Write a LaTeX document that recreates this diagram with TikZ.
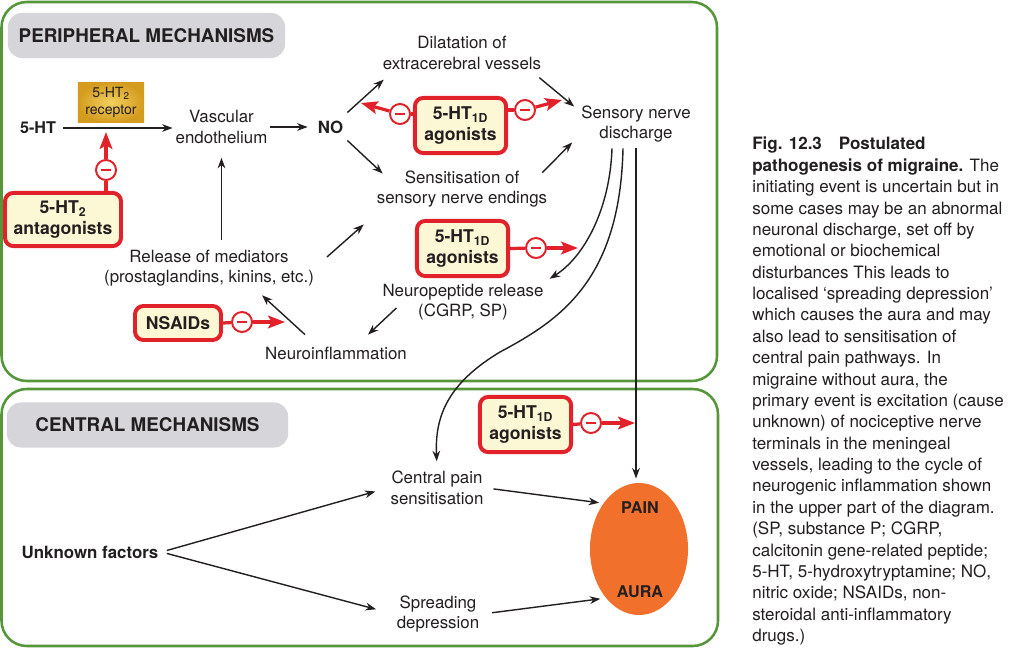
\documentclass[tikz,border=0pt]{standalone}
\usepackage{fontspec}
\setmainfont{TeX Gyre Heros}
\usepackage{tikz}
\usetikzlibrary{arrows.meta, positioning, shapes.geometric}
\usepackage{xcolor}

\definecolor{ink}{RGB}{35,31,32}
\definecolor{framegreen}{RGB}{86,150,58}
\definecolor{drugred}{RGB}{226,34,42}
\definecolor{cream}{RGB}{252,247,212}
\definecolor{gold}{RGB}{212,156,30}
\definecolor{goldlight}{RGB}{242,208,96}
\definecolor{headgrey}{RGB}{214,214,218}
\definecolor{painorange}{RGB}{240,112,44}

\begin{document}
\begin{tikzpicture}[x=0.025cm, y=-0.025cm, ink,
    txt/.style={align=center, inner sep=2pt, font=\fontsize{12}{14.5}\selectfont},
    boldtxt/.style={inner sep=2pt, font=\fontsize{12}{14.5}\selectfont\bfseries},
    drug/.style={draw=drugred, line width=2.8pt, fill=cream, rounded corners=6pt, align=center,
      inner sep=1pt, font=\fontsize{12.5}{14.5}\selectfont\bfseries,
      minimum width=2.28cm, minimum height=1.38cm},
    inh/.style={circle, draw=drugred, line width=1.4pt, fill=white, minimum size=0.5cm, inner sep=0pt,
      path picture={\draw[drugred, line width=1.4pt]
        ([xshift=-3.5pt]path picture bounding box.center) -- ([xshift=3.5pt]path picture bounding box.center);}},
    arr/.style={draw=ink, line width=1pt, -{Stealth[length=7.5pt, width=5.5pt]}},
    redline/.style={drugred, line width=2.3pt},
    redarr/.style={drugred, line width=2.3pt, -{Stealth[length=12pt, width=9pt, inset=2.5pt]}},
    headbox/.style={fill=headgrey, rounded corners=10pt, minimum height=1.125cm,
      font=\fontsize{13.4}{16}\selectfont\bfseries},
    greenbox/.style={draw=framegreen, line width=1.8pt, rounded corners=18pt}]

\useasboundingbox (0,0) rectangle (1024,650);
\fill[white] (0,0) rectangle (1024,650);

\draw[greenbox] (1.5,2) rectangle (717,381);
\draw[greenbox] (1.5,389) rectangle (718,646);

\node[headbox, minimum width=6.93cm] (perihead) at (146.5,35.5) {PERIPHERAL MECHANISMS};
\node[headbox, minimum width=7.03cm] (centhead) at (147.5,425) {CENTRAL MECHANISMS};

% peripheral part
\node[boldtxt, font=\fontsize{11.5}{13}\selectfont\bfseries] (ht) at (38,128) {5-HT};
\node[inner color=goldlight, outer color=gold,
  minimum width=1.65cm, minimum height=1.02cm, align=center, inner sep=1pt,
  font=\fontsize{10}{12}\selectfont] (rec) at (111,102.5) {5-HT\textsubscript{2}\\receptor};
\node[txt] (vasc) at (221.5,127) {Vascular\\endothelium};
\node[boldtxt] (no) at (330.5,127) {NO};
\node[drug, minimum width=2.9cm, minimum height=1.33cm] (ant) at (63,219.5) {5-HT\textsubscript{2}\\antagonists};
\node[txt] (rel) at (209,268) {Release of mediators\\(prostaglandins, kinins, etc.)};
\node[drug, minimum width=2.15cm, minimum height=0.85cm] (nsaid) at (178,323) {NSAIDs};
\node[txt] (neuroinf) at (336,353) {Neuroinflammation};
\node[txt] (dil) at (462,53) {Dilatation of\\extracerebral vessels};
\node[drug] (agA) at (460.5,125.5) {5-HT\textsubscript{1D}\\agonists};
\node[txt] (sens) at (462,189) {Sensitisation of\\sensory nerve endings};
\node[txt] (disch) at (636,124) {Sensory nerve\\discharge};
\node[drug] (agB) at (462.5,248.5) {5-HT\textsubscript{1D}\\agonists};
\node[txt] (neuropep) at (463,302) {Neuropeptide release\\(CGRP, SP)};

% central part
\node[drug] (agC) at (525.5,424.5) {5-HT\textsubscript{1D}\\agonists};
\node[txt] (central) at (437,488) {Central pain\\sensitisation};
\node[txt] (spread) at (438,614) {Spreading\\depression};
\node[boldtxt] (unknown) at (90,552) {Unknown factors};
\node[ellipse, fill=painorange, inner sep=0pt, minimum width=2.45cm, minimum height=3.3cm] (pain) at (639,549) {};
\node[boldtxt, font=\fontsize{11.5}{13}\selectfont\bfseries] (painlbl) at (640,508) {PAIN};
\node[boldtxt, font=\fontsize{11.5}{13}\selectfont\bfseries] (auralbl) at (640,592) {AURA};

% inhibitors
\node[inh] (antinh) at (106,170) {};
\node[inh] (agAl) at (400,114) {};
\node[inh] (agAr) at (525,110) {};
\node[inh] (agBinh) at (536,248) {};
\node[inh] (nsinh) at (242,322) {};
\node[inh] (agCinh) at (591,423) {};
\coordinate (antend) at (106,132);
\coordinate (agAlend) at (361,103);
\coordinate (agArend) at (562,100);
\coordinate (agBend) at (578,248);
\coordinate (nsend) at (285,322);
\coordinate (agCend) at (635,423);

\draw[redline] (antinh |- ant.north) -- (antinh);
\draw[redarr] (antinh) -- (antend);
\draw[redline] (agAl -| agA.west) -- (agAl);
\draw[redarr] (agAl) -- (agAlend);
\draw[redline] (agAr -| agA.east) -- (agAr);
\draw[redarr] (agAr) -- (agArend);
\draw[redline] (agB.east) -- (agBinh);
\draw[redarr] (agBinh) -- (agBend);
\draw[redline] (nsaid.east) -- (nsinh);
\draw[redarr] (nsinh) -- (nsend);
\draw[redline] (agC.east) -- (agCinh);
\draw[redarr] (agCinh) -- (agCend);

% black connectors
\draw[arr, shorten <=3pt] (ht.east) -- (ht.east -| vasc.west);
\draw[arr, shorten >=5pt] (vasc.east) -- (no.west);
\draw[arr, shorten <=5pt, shorten >=8pt] (vasc.south |- rel.north) -- (vasc.south);
\draw[arr] ([shift={(10,-11)}]rel.east) -- ([shift={(-10,14)}]sens.south west);
\draw[arr] ([shift={(1,-5)}]no.north east) -- ([shift={(4,7)}]dil.south west);
\draw[arr] ([shift={(1,4)}]no.south east) -- ([shift={(9,6)}]sens.north west);
\draw[arr] ([shift={(-5,5)}]dil.south east) -- ([shift={(-4,4)}]disch.north west);
\draw[arr] ([shift={(-8,5)}]sens.north east) -- ([shift={(-6,-3)}]disch.south west);
\draw[arr] ([shift={(-31,-9)}]neuroinf.north) -- ([shift={(53,6)}]rel.south);
\draw[arr] ([shift={(17,6)}]neuropep.west) -- ([shift={(32,-9)}]neuroinf.north);

\draw[arr] ([shift={(-24,3)}]disch.south) .. controls +(-2,60) and +(35,-22) .. ([shift={(3,-2)}]neuropep.north east);
\draw[arr, shorten >=5pt] ([shift={(-13,3)}]disch.south) .. controls +(-3,132) and +(60,-32) .. (500,352)
  .. controls +(-55,33) and +(-2,-49) .. (central.north);
\draw[arr, shorten <=2pt, shorten >=3pt] (disch.south) -- (disch.south |- pain.north);

\draw[arr, shorten <=4pt, shorten >=9pt] (unknown.east) -- (central.west);
\draw[arr, shorten <=4pt, shorten >=13pt] (unknown.east) -- (spread.west);
\draw[arr, shorten <=5pt, shorten >=3pt] (central.east) -- (pain.128);
\draw[arr, shorten <=7pt, shorten >=4pt] (spread.east) -- (pain.236);

% caption
\node[anchor=north west, inner sep=0pt, align=left, font=\fontsize{12.1}{15.2}\selectfont] (caption) at (752,137) {%
\textbf{Fig. 12.3\quad Postulated}\\
\textbf{pathogenesis of migraine.} The\\
initiating event is uncertain but in\\
some cases may be an abnormal\\
neuronal discharge, set off by\\
emotional or biochemical\\
disturbances This leads to\\
localised ‘spreading depression’\\
which causes the aura and may\\
also lead to sensitisation of\\
central pain pathways. In\\
migraine without aura, the\\
primary event is excitation (cause\\
unknown) of nociceptive nerve\\
terminals in the meningeal\\
vessels, leading to the cycle of\\
neurogenic inflammation shown\\
in the upper part of the diagram.\\
(SP, substance P; CGRP,\\
calcitonin gene-related peptide;\\
5-HT, 5-hydroxytryptamine; NO,\\
nitric oxide; NSAIDs, non-\\
steroidal anti-inflammatory\\
drugs.)};
\end{tikzpicture}
\end{document}
